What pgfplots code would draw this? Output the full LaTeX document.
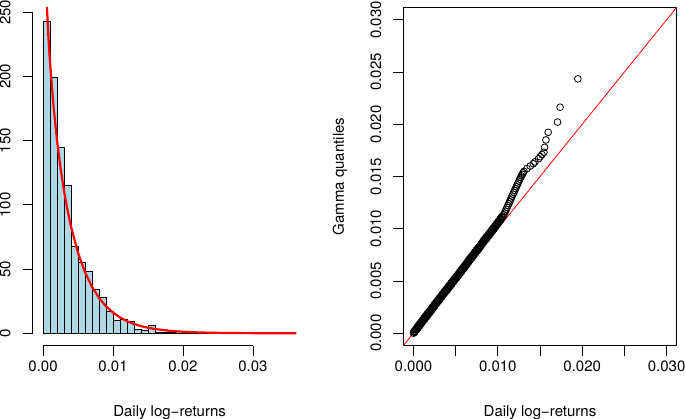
\documentclass[border=0pt]{standalone}
\usepackage{fontspec}
\setmainfont{TeX Gyre Heros}
\usepackage{pgfplots}
\pgfplotsset{compat=1.18}

\definecolor{histfill}{HTML}{ADD8E6}

% sorted returns against gamma quantiles
\pgfplotstableread{
x y
0.0000 0.00000
0.00005 0.00017
0.0001 0.00010
0.00015 0.00008
0.0002 0.00021
0.00025 0.00038
0.0003 0.00032
0.00035 0.00030
0.0004 0.00042
0.00045 0.00060
0.0005 0.00053
0.00055 0.00050
0.0006 0.00064
0.00065 0.00082
0.0007 0.00074
0.00075 0.00070
0.0008 0.00085
0.00085 0.00103
0.0009 0.00096
0.00095 0.00092
0.0010 0.00106
0.00105 0.00124
0.0011 0.00117
0.00115 0.00113
0.0012 0.00128
0.00125 0.00146
0.0013 0.00138
0.00135 0.00135
0.0014 0.00149
0.00145 0.00167
0.0015 0.00160
0.00155 0.00157
0.0016 0.00170
0.00165 0.00188
0.0017 0.00180
0.00175 0.00176
0.0018 0.00190
0.00185 0.00207
0.0019 0.00200
0.00195 0.00197
0.0020 0.00211
0.00205 0.00228
0.0021 0.00221
0.00215 0.00218
0.0022 0.00232
0.00225 0.00250
0.0023 0.00243
0.00235 0.00240
0.0024 0.00254
0.00245 0.00272
0.0025 0.00265
0.00255 0.00262
0.0026 0.00276
0.00265 0.00294
0.0027 0.00287
0.00275 0.00284
0.0028 0.00298
0.00285 0.00315
0.0029 0.00308
0.00295 0.00304
0.0030 0.00318
0.00305 0.00335
0.0031 0.00328
0.00315 0.00324
0.0032 0.00338
0.00325 0.00355
0.0033 0.00348
0.00335 0.00345
0.0034 0.00359
0.00345 0.00377
0.0035 0.00370
0.00355 0.00367
0.0036 0.00381
0.00365 0.00399
0.0037 0.00392
0.00375 0.00388
0.0038 0.00402
0.00385 0.00419
0.0039 0.00412
0.00395 0.00408
0.0040 0.00422
0.00405 0.00439
0.0041 0.00432
0.00415 0.00428
0.0042 0.00442
0.00425 0.00459
0.0043 0.00452
0.00435 0.00448
0.0044 0.00462
0.00445 0.00480
0.0045 0.00473
0.00455 0.00470
0.0046 0.00484
0.00465 0.00502
0.0047 0.00495
0.00475 0.00492
0.0048 0.00506
0.00485 0.00523
0.0049 0.00516
0.00495 0.00512
0.0050 0.00526
0.00505 0.00542
0.0051 0.00535
0.00515 0.00531
0.0052 0.00545
0.00525 0.00562
0.0053 0.00555
0.00535 0.00552
0.0054 0.00566
0.00545 0.00584
0.0055 0.00577
0.00555 0.00574
0.0056 0.00588
0.00565 0.00606
0.0057 0.00599
0.00575 0.00596
0.0058 0.00610
0.00585 0.00627
0.0059 0.00620
0.00595 0.00616
0.0060 0.00630
0.00605 0.00647
0.0061 0.00640
0.00615 0.00636
0.0062 0.00650
0.00625 0.00668
0.0063 0.00661
0.00635 0.00658
0.0064 0.00673
0.00645 0.00691
0.0065 0.00685
0.00655 0.00682
0.0066 0.00696
0.00665 0.00713
0.0067 0.00706
0.00675 0.00702
0.0068 0.00716
0.00685 0.00733
0.0069 0.00726
0.00695 0.00722
0.0070 0.00736
0.00705 0.00753
0.0071 0.00746
0.00715 0.00743
0.0072 0.00757
0.00725 0.00775
0.0073 0.00768
0.00735 0.00765
0.0074 0.00779
0.00745 0.00797
0.0075 0.00790
0.00755 0.00786
0.0076 0.00800
0.00765 0.00817
0.0077 0.00810
0.00775 0.00806
0.0078 0.00820
0.00785 0.00837
0.0079 0.00830
0.00795 0.00827
0.0080 0.00841
0.00805 0.00859
0.0081 0.00852
0.00815 0.00850
0.0082 0.00864
0.00825 0.00882
0.0083 0.00876
0.00835 0.00873
0.0084 0.00887
0.00845 0.00904
0.0085 0.00897
0.00855 0.00893
0.0086 0.00907
0.00865 0.00924
0.0087 0.00917
0.00875 0.00913
0.0088 0.00927
0.00885 0.00944
0.0089 0.00937
0.00895 0.00933
0.0090 0.00947
0.00905 0.00964
0.0091 0.00957
0.00915 0.00954
0.0092 0.00968
0.00925 0.00986
0.0093 0.00979
0.00935 0.00976
0.0094 0.00990
0.00945 0.01007
0.0095 0.01000
0.00955 0.00996
0.0096 0.01010
0.00965 0.01028
0.0097 0.01021
0.00975 0.01018
0.0098 0.01032
0.00985 0.01050
0.0099 0.01043
0.00995 0.01040
0.0100 0.01054
0.01005 0.01071
0.0101 0.01064
0.01015 0.01061
0.0102 0.01075
0.01025 0.01093
0.0103 0.01086
0.01035 0.01083
0.0104 0.01097
0.01045 0.01115
0.0105 0.01108
0.0106 0.01119
0.0107 0.01133
0.0108 0.01150
0.0109 0.01168
0.0110 0.01186
0.0111 0.01204
0.0112 0.01222
0.0113 0.01240
0.0114 0.01258
0.0115 0.01276
0.0116 0.01294
0.0117 0.01312
0.0118 0.01330
0.0119 0.01348
0.0120 0.01366
0.0121 0.01384
0.0122 0.01402
0.0123 0.01420
0.0124 0.01438
0.0125 0.01456
0.0126 0.01474
0.0127 0.01490
0.0128 0.01506
0.0129 0.01520
0.0130 0.01535
0.0131 0.01549
0.01345 0.01575
0.01384 0.01600
0.01420 0.01622
0.01440 0.01640
0.01483 0.01670
0.01503 0.01690
0.01523 0.01710
0.01546 0.01732
0.01554 0.01779
0.01570 0.01850
0.01597 0.01923
0.01708 0.02021
0.01738 0.02163
0.01948 0.02435
}\qqdata

\pgfplotsset{
  rstyle/.style={
    scale only axis, width=273.4pt, height=338.4pt, anchor=south west,
    tick align=outside, major tick length=10pt,
    xtick pos=left, ytick pos=left,
    every tick/.style={black, line width=0.8pt},
    axis line style={line width=0.8pt},
    scaled ticks=false,
    xticklabels={}, yticklabels={},
    label style={font=\fontsize{15}{18}\selectfont, inner sep=0pt},
    every axis x label/.style={at={(axis description cs:0.5,-0.1986)}, anchor=center},
  },
}
\tikzset{
  xlab/.style={anchor=north, inner sep=0pt, font=\fontsize{15}{18}\selectfont},
  ylab/.style={rotate=90, anchor=south, inner sep=0pt, font=\fontsize{15}{18}\selectfont},
}

\begin{document}
\fontsize{15}{18}\selectfont
\begin{tikzpicture}

% left panel: histogram with fitted gamma density
\begin{axis}[rstyle, at={(32.9pt,73.2pt)},
  xmin=-0.001447, xmax=0.03762, ymin=-9.76, ymax=253.76,
  axis line style={draw=none},
  xtick={0,0.01,0.02,0.03},
  ytick={0,50,100,150,200,250},
  xlabel={Daily log−returns},
  after end axis/.code={
    \foreach \v/\t in {0/0.00,0.01/0.01,0.02/0.02,0.03/0.03}
      \node[xlab] at ([yshift=-14.5pt]axis cs:\v,-9.76) {\t};
    \foreach \v in {0,50,100,150,200,250}
      \node[ylab] at ([xshift=-22pt]axis cs:-0.001447,\v) {\v};
    \draw[line width=0.8pt] (axis cs:0,-9.76) -- (axis cs:0.03,-9.76);
    \draw[line width=0.8pt] (axis cs:-0.001447,0) -- (axis cs:-0.001447,250);
  }]
\addplot[ybar interval, fill=histfill, draw=black, line width=0.8pt] coordinates {
(0.000,243)(0.001,199)(0.002,145)(0.003,115)(0.004,68)(0.005,55)(0.006,48)
(0.007,34)(0.008,28)(0.009,17)(0.010,10)(0.011,11)(0.012,9)(0.013,3)
(0.014,2)(0.015,6)(0.016,1)(0.017,1)(0.018,1)(0.019,0)(0.020,0)(0.021,0)
(0.022,0)(0.023,0)(0.024,0)(0.025,0)(0.026,0)(0.027,1)(0.028,0)};
\addplot[red, line width=2.2pt] coordinates {
(0.0003,291)(0.0005,260.1)(0.00075,232.5)(0.001,210.7)(0.0015,176.7)
(0.002,150.3)(0.0025,128.8)(0.003,110.9)(0.0035,95.8)(0.004,83.0)
(0.005,62.6)(0.006,47.5)(0.007,36.1)(0.008,27.5)(0.009,21.0)(0.010,16.1)
(0.011,12.3)(0.012,9.46)(0.013,7.26)(0.014,5.58)(0.015,4.29)(0.016,3.30)
(0.018,1.95)(0.020,1.16)(0.022,0.69)(0.024,0.41)(0.026,0.24)(0.028,0.14)
(0.030,0.085)(0.032,0.05)(0.034,0.03)(0.0362,0.018)};
\end{axis}

% right panel: QQ plot
\begin{axis}[rstyle, at={(403.3pt,73.3pt)},
  xmin=-0.0012, xmax=0.0312, ymin=-0.0012, ymax=0.0312,
  xtick={0,0.005,0.01,0.015,0.02,0.025,0.03},
  ytick={0,0.005,0.01,0.015,0.02,0.025,0.03},
  xlabel={Daily log−returns}, ylabel={Gamma quantiles},
  every axis y label/.style={at={(axis description cs:-0.2315,0.5)}, rotate=90, anchor=center},
  after end axis/.code={
    \foreach \v/\t in {0/0.000,0.01/0.010,0.02/0.020,0.03/0.030}
      \node[xlab] at ([yshift=-14.5pt]axis cs:\v,-0.0012) {\t};
    \foreach \v/\t in {0/0.000,0.005/0.005,0.01/0.010,0.015/0.015,0.02/0.020,0.025/0.025,0.03/0.030}
      \node[ylab] at ([xshift=-21.8pt]axis cs:-0.0012,\v) {\t};
  }]
\addplot[only marks, mark=o, mark size=3.4pt, black, mark options={line width=0.8pt}] table[x=x, y=y] {\qqdata};
\addplot[red, line width=0.8pt] coordinates {(-0.0012,-0.0012)(0.0312,0.0312)};
\end{axis}

\pgfresetboundingbox
\path[use as bounding box] (0pt,0pt) rectangle (685pt,419pt);
\end{tikzpicture}
\end{document}
